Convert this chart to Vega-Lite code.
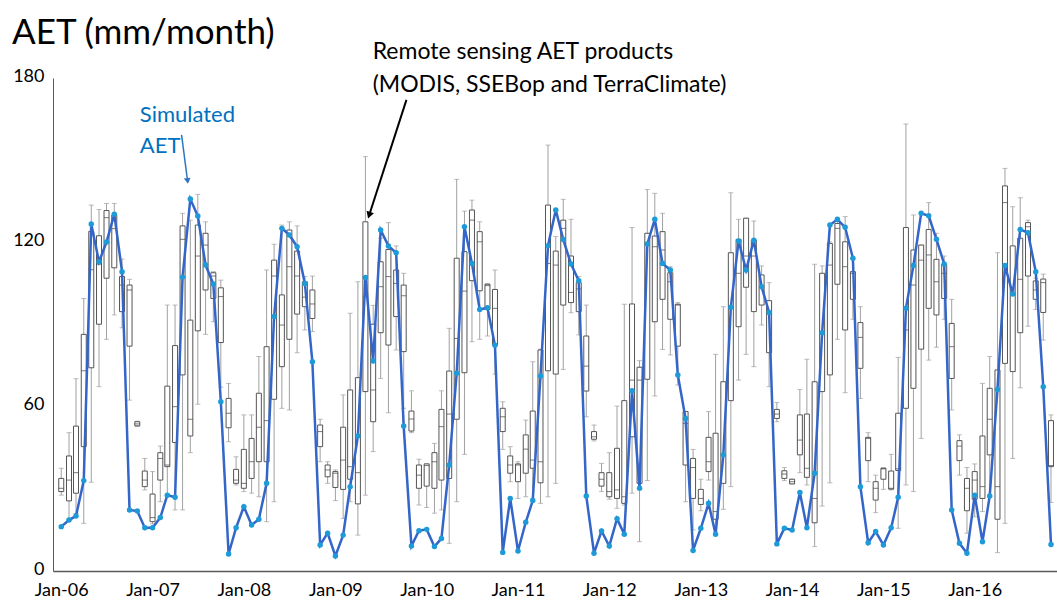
{
"$schema": "https://vega.github.io/schema/vega-lite/v6.json",
"width": 1004, "height": 493,
"autosize": "none",
"padding": {"left": 53, "top": 78, "right": 0, "bottom": 29},
"background": "white",
"title": {"text": "AET (mm/month)", "anchor": "start", "frame": "group", "dx": -41, "dy": 35, "offset": 25, "fontSize": 35, "font": "Lato", "fontWeight": "normal", "color": "#000000"},
"config": {
  "view": {"stroke": null},
  "axis": {"grid": false, "ticks": false, "domainColor": "#595959", "labelFont": "Lato", "labelFontSize": 18, "labelColor": "#000000", "labelFontWeight": "normal"},
  "text": {"font": "Lato"}
},
"data": {"values": [
{"date":"2006-01","sim":16.2,"lo":27.7,"q1":29.0,"med":30.2,"q3":33.8,"hi":37.5},
{"date":"2006-02","sim":18.6,"lo":18.6,"q1":25.6,"med":33.2,"q3":42.0,"hi":50.5},
{"date":"2006-03","sim":20.1,"lo":21.0,"q1":28.4,"med":35.9,"q3":52.9,"hi":70.2},
{"date":"2006-04","sim":33.0,"lo":17.4,"q1":45.4,"med":73.1,"q3":86.4,"hi":99.5},
{"date":"2006-05","sim":126.7,"lo":32.4,"q1":74.2,"med":110,"q3":124,"hi":133.6},
{"date":"2006-06","sim":112.9,"lo":67.3,"q1":90.1,"med":112,"q3":122.4,"hi":132},
{"date":"2006-07","sim":120.1,"lo":84.6,"q1":106.9,"med":129,"q3":131.6,"hi":134.2},
{"date":"2006-08","sim":130.3,"lo":93.5,"q1":110.7,"med":125,"q3":130,"hi":134.2},
{"date":"2006-09","sim":109.3,"lo":88.8,"q1":94.7,"med":104.4,"q3":107.5,"hi":113.9},
{"date":"2006-10","sim":22.3,"lo":62.4,"q1":82.1,"med":102.6,"q3":104.4,"hi":106.5},
{"date":"2006-11","sim":21.9,"lo":52.8,"q1":53.0,"med":53.7,"q3":54.5,"hi":54.7},
{"date":"2006-12","sim":15.8,"lo":29.6,"q1":30.8,"med":33.2,"q3":36.5,"hi":41.1},
{"date":"2007-01","sim":15.8,"lo":17.2,"q1":18.0,"med":19.5,"q3":28.1,"hi":36.3},
{"date":"2007-02","sim":19.5,"lo":25.3,"q1":33.2,"med":41.1,"q3":43.2,"hi":45.6},
{"date":"2007-03","sim":27.7,"lo":27.7,"q1":38.1,"med":38.7,"q3":67.5,"hi":97.1},
{"date":"2007-04","sim":26.9,"lo":22.3,"q1":46.9,"med":60,"q3":82.3,"hi":97.1},
{"date":"2007-05","sim":107.3,"lo":22.3,"q1":71.6,"med":121.1,"q3":126,"hi":130.6},
{"date":"2007-06","sim":135.8,"lo":43.2,"q1":49.3,"med":55.4,"q3":91.6,"hi":128.1},
{"date":"2007-07","sim":129.6,"lo":60.9,"q1":87.7,"med":115,"q3":126.3,"hi":137.5},
{"date":"2007-08","sim":111.7,"lo":86.4,"q1":102.6,"med":119,"q3":123.3,"hi":127.5},
{"date":"2007-09","sim":104.8,"lo":91.0,"q1":99.5,"med":107.7,"q3":108.9,"hi":109.3},
{"date":"2007-10","sim":61.8,"lo":67.1,"q1":83.4,"med":100.2,"q3":103.4,"hi":106.2},
{"date":"2007-11","sim":6.2,"lo":47.2,"q1":52.3,"med":57.6,"q3":63.0,"hi":68.5},
{"date":"2007-12","sim":15.8,"lo":31.4,"q1":32.0,"med":33.2,"q3":37.1,"hi":41.7},
{"date":"2008-01","sim":23.5,"lo":29.0,"q1":30.2,"med":32.0,"q3":44.4,"hi":57.0},
{"date":"2008-02","sim":16.8,"lo":28.4,"q1":33.8,"med":39.9,"q3":48.4,"hi":57.0},
{"date":"2008-03","sim":18.9,"lo":27.1,"q1":39.9,"med":52.5,"q3":64.9,"hi":78.3},
{"date":"2008-04","sim":32.0,"lo":18.0,"q1":39.9,"med":54.9,"q3":81.9,"hi":109.9},
{"date":"2008-05","sim":92.9,"lo":25.3,"q1":62.7,"med":107.7,"q3":113.5,"hi":119.3},
{"date":"2008-06","sim":125.1,"lo":59.4,"q1":74.6,"med":89.8,"q3":100.8,"hi":126.3},
{"date":"2008-07","sim":122.7,"lo":58.8,"q1":84.6,"med":111.1,"q3":124.5,"hi":127.5},
{"date":"2008-08","sim":118.4,"lo":79.7,"q1":93.8,"med":107.7,"q3":116.8,"hi":126.0},
{"date":"2008-09","sim":105.0,"lo":88.0,"q1":96.5,"med":100.0,"q3":105.6,"hi":107.5},
{"date":"2008-10","sim":76.4,"lo":87.4,"q1":92.2,"med":97.5,"q3":102.6,"hi":107.7},
{"date":"2008-11","sim":9.5,"lo":39.9,"q1":45.4,"med":50.9,"q3":53.3,"hi":55.4},
{"date":"2008-12","sim":13.8,"lo":32.0,"q1":34.4,"med":36.9,"q3":38.7,"hi":39.9},
{"date":"2009-01","sim":5.5,"lo":25.7,"q1":30.5,"med":35.7,"q3":36.3,"hi":36.9},
{"date":"2009-02","sim":13.1,"lo":19.2,"q1":29.8,"med":40.5,"q3":52.5,"hi":64.3},
{"date":"2009-03","sim":30.8,"lo":25.3,"q1":33.5,"med":38.1,"q3":66.1,"hi":94.1},
{"date":"2009-04","sim":49.3,"lo":13.1,"q1":24.5,"med":35.9,"q3":70.6,"hi":105.6},
{"date":"2009-05","sim":107.2,"lo":27.7,"q1":65.5,"med":100,"q3":127.5,"hi":151.3},
{"date":"2009-06","sim":76.7,"lo":43.6,"q1":54.5,"med":66.1,"q3":90.1,"hi":97},
{"date":"2009-07","sim":124.5,"lo":70.3,"q1":87.0,"med":103.8,"q3":112.9,"hi":121.5},
{"date":"2009-08","sim":118.7,"lo":57.8,"q1":82.5,"med":107.5,"q3":117.4,"hi":127.2},
{"date":"2009-09","sim":116.2,"lo":80.7,"q1":92.9,"med":105.0,"q3":109.9,"hi":118.7},
{"date":"2009-10","sim":52.9,"lo":59.4,"q1":80.1,"med":100.5,"q3":104.4,"hi":108.7},
{"date":"2009-11","sim":9.1,"lo":50.5,"q1":51.1,"med":55.5,"q3":58.4,"hi":65.8},
{"date":"2009-12","sim":14.7,"lo":24.1,"q1":30.2,"med":35.0,"q3":38.7,"hi":40.8},
{"date":"2010-01","sim":15.2,"lo":23.2,"q1":31.0,"med":38.5,"q3":39.1,"hi":39.1},
{"date":"2010-02","sim":8.9,"lo":21.1,"q1":30.2,"med":39.9,"q3":43.2,"hi":46.6},
{"date":"2010-03","sim":11.9,"lo":22.3,"q1":33.2,"med":52.7,"q3":59.0,"hi":65.8},
{"date":"2010-04","sim":38.7,"lo":10.1,"q1":33.8,"med":57.3,"q3":73.0,"hi":88.6},
{"date":"2010-05","sim":72.2,"lo":25.3,"q1":55.4,"med":84.9,"q3":114.2,"hi":143.0},
{"date":"2010-06","sim":125.7,"lo":42.6,"q1":72.4,"med":102.2,"q3":116.6,"hi":131.4},
{"date":"2010-07","sim":112.3,"lo":83.7,"q1":106.0,"med":128.1,"q3":131.8,"hi":135.4},
{"date":"2010-08","sim":95.5,"lo":84.6,"q1":102.3,"med":120.2,"q3":123.9,"hi":127.5},
{"date":"2010-09","sim":96.1,"lo":85.8,"q1":95.5,"med":104.2,"q3":104.7,"hi":104.9},
{"date":"2010-10","sim":82.4,"lo":71.9,"q1":82.5,"med":95.9,"q3":102.8,"hi":109.9},
{"date":"2010-11","sim":6.8,"lo":44.4,"q1":50.9,"med":56.3,"q3":59.4,"hi":61.8},
{"date":"2010-12","sim":26.5,"lo":32.6,"q1":35.7,"med":38.7,"q3":42.0,"hi":45.4},
{"date":"2011-01","sim":7.3,"lo":26.5,"q1":32.6,"med":38.7,"q3":39.1,"hi":39.9},
{"date":"2011-02","sim":17.8,"lo":27.1,"q1":35.7,"med":44.5,"q3":49.7,"hi":55.1},
{"date":"2011-03","sim":25.7,"lo":26.5,"q1":37.5,"med":40.5,"q3":58.4,"hi":76.4},
{"date":"2011-04","sim":71.2,"lo":24.7,"q1":32.2,"med":39.9,"q3":80.7,"hi":81.0},
{"date":"2011-05","sim":118.8,"lo":27.1,"q1":73.1,"med":112.3,"q3":133.6,"hi":155.5},
{"date":"2011-06","sim":131.8,"lo":32.0,"q1":71.9,"med":111.7,"q3":116.8,"hi":122.1},
{"date":"2011-07","sim":121.0,"lo":73.6,"q1":97.1,"med":125.1,"q3":128.1,"hi":135.7},
{"date":"2011-08","sim":112.1,"lo":94.3,"q1":98.0,"med":101.7,"q3":115.0,"hi":128.4},
{"date":"2011-09","sim":106.0,"lo":86.2,"q1":94.7,"med":103.0,"q3":105.3,"hi":107.5},
{"date":"2011-10","sim":27.4,"lo":56.3,"q1":65.7,"med":74.8,"q3":85.8,"hi":97.1},
{"date":"2011-11","sim":6.5,"lo":47.5,"q1":48.1,"med":49.0,"q3":50.9,"hi":53.3},
{"date":"2011-12","sim":14.6,"lo":29.0,"q1":31.0,"med":33.5,"q3":35.9,"hi":39.3},
{"date":"2012-01","sim":9.1,"lo":26.2,"q1":27.1,"med":29.0,"q3":35.9,"hi":43.2},
{"date":"2012-02","sim":19.1,"lo":22.9,"q1":26.5,"med":29.6,"q3":44.8,"hi":60.2},
{"date":"2012-03","sim":13.4,"lo":24.1,"q1":24.7,"med":27.1,"q3":62.2,"hi":97.4},
{"date":"2012-04","sim":65.8,"lo":28.4,"q1":49.0,"med":69.7,"q3":97.5,"hi":125.4},
{"date":"2012-05","sim":30.2,"lo":10.7,"q1":32.0,"med":69.7,"q3":74.4,"hi":76.8},
{"date":"2012-06","sim":119.4,"lo":33.0,"q1":70.0,"med":119.6,"q3":123.3,"hi":139.3},
{"date":"2012-07","sim":128.4,"lo":63.9,"q1":91.0,"med":118.4,"q3":122.3,"hi":137.9},
{"date":"2012-08","sim":112.3,"lo":80.9,"q1":99.2,"med":117.2,"q3":123.9,"hi":130.6},
{"date":"2012-09","sim":109.9,"lo":78.9,"q1":91.9,"med":105.6,"q3":108.9,"hi":111.1},
{"date":"2012-10","sim":71.6,"lo":67.9,"q1":82.1,"med":97.1,"q3":97.4,"hi":98.0},
{"date":"2012-11","sim":55.7,"lo":25.3,"q1":38.7,"med":53.9,"q3":58.2,"hi":58.2},
{"date":"2012-12","sim":7.5,"lo":15.0,"q1":26.5,"med":37.8,"q3":41.1,"hi":44.4},
{"date":"2013-01","sim":15.6,"lo":22.0,"q1":24.3,"med":26.5,"q3":29.8,"hi":33.5},
{"date":"2013-02","sim":24.7,"lo":33.2,"q1":36.3,"med":39.9,"q3":48.8,"hi":58.2},
{"date":"2013-03","sim":13.4,"lo":17.0,"q1":18.9,"med":21.7,"q3":50.3,"hi":79.1},
{"date":"2013-04","sim":42.4,"lo":22.5,"q1":32.0,"med":42.4,"q3":69.1,"hi":96.5},
{"date":"2013-05","sim":96.3,"lo":30.8,"q1":62.2,"med":96.5,"q3":116.2,"hi":138.1},
{"date":"2013-06","sim":120.5,"lo":69.7,"q1":89.2,"med":108.7,"q3":121.1,"hi":128.4},
{"date":"2013-07","sim":109.9,"lo":79.1,"q1":103.6,"med":115.0,"q3":128.8,"hi":128.8},
{"date":"2013-08","sim":120.8,"lo":74.6,"q1":94.7,"med":115.0,"q3":120.8,"hi":127.8},
{"date":"2013-09","sim":103.8,"lo":89.8,"q1":97.1,"med":103.8,"q3":108.1,"hi":111.4},
{"date":"2013-10","sim":94.4,"lo":67.3,"q1":79.7,"med":94.4,"q3":98.7,"hi":105.3},
{"date":"2013-11","sim":9.9,"lo":54.5,"q1":55.7,"med":57.3,"q3":59.0,"hi":61.5},
{"date":"2013-12","sim":15.6,"lo":33.0,"q1":33.8,"med":35.4,"q3":36.6,"hi":37.8},
{"date":"2014-01","sim":15.0,"lo":31.8,"q1":31.8,"med":32.6,"q3":33.5,"hi":33.5},
{"date":"2014-02","sim":28.7,"lo":35.9,"q1":42.4,"med":47.8,"q3":57.0,"hi":66.3},
{"date":"2014-03","sim":15.8,"lo":31.4,"q1":34.2,"med":37.5,"q3":57.3,"hi":77.3},
{"date":"2014-04","sim":35.7,"lo":8.9,"q1":17.6,"med":26.5,"q3":69.1,"hi":112.0},
{"date":"2014-05","sim":87.0,"lo":23.7,"q1":65.5,"med":87.4,"q3":108.7,"hi":111.4},
{"date":"2014-06","sim":126.3,"lo":32.2,"q1":71.6,"med":111.7,"q3":119.6,"hi":120.2},
{"date":"2014-07","sim":128.4,"lo":84.6,"q1":104.7,"med":125.1,"q3":126.9,"hi":127.9},
{"date":"2014-08","sim":125.5,"lo":65.1,"q1":88.0,"med":111.1,"q3":120.2,"hi":129.4},
{"date":"2014-09","sim":114.2,"lo":91.9,"q1":99.2,"med":108.7,"q3":109.3,"hi":113.8},
{"date":"2014-10","sim":30.8,"lo":63.0,"q1":74.0,"med":85.3,"q3":90.7,"hi":96.5},
{"date":"2014-11","sim":10.3,"lo":32.6,"q1":40.3,"med":48.4,"q3":48.8,"hi":50.5},
{"date":"2014-12","sim":14.4,"lo":21.3,"q1":25.9,"med":30.2,"q3":32.6,"hi":35.0},
{"date":"2015-01","sim":9.5,"lo":29.8,"q1":33.5,"med":37.3,"q3":37.5,"hi":37.7},
{"date":"2015-02","sim":15.8,"lo":29.6,"q1":29.9,"med":30.2,"q3":36.5,"hi":42.6},
{"date":"2015-03","sim":26.9,"lo":15.6,"q1":36.7,"med":37.3,"q3":57.6,"hi":78.0},
{"date":"2015-04","sim":95.9,"lo":31.4,"q1":59.4,"med":88.0,"q3":125.4,"hi":163.2},
{"date":"2015-05","sim":111.5,"lo":29.0,"q1":66.7,"med":104.4,"q3":117.2,"hi":130.0},
{"date":"2015-06","sim":130.6,"lo":48.4,"q1":81.0,"med":113.5,"q3":119.0,"hi":119.0},
{"date":"2015-07","sim":129.7,"lo":77.0,"q1":95.9,"med":115.4,"q3":124.7,"hi":134.5},
{"date":"2015-08","sim":121.1,"lo":81.7,"q1":93.5,"med":105.6,"q3":113.8,"hi":123.3},
{"date":"2015-09","sim":112.1,"lo":91.9,"q1":99.5,"med":108.7,"q3":111.9,"hi":115.0},
{"date":"2015-10","sim":22.3,"lo":58.8,"q1":70.3,"med":81.9,"q3":90.4,"hi":99.2},
{"date":"2015-11","sim":10.1,"lo":35.0,"q1":40.3,"med":45.6,"q3":47.6,"hi":49.7},
{"date":"2015-12","sim":6.5,"lo":13.8,"q1":22.0,"med":30.2,"q3":33.8,"hi":37.8},
{"date":"2016-01","sim":27.7,"lo":19.8,"q1":26.2,"med":33.2,"q3":36.3,"hi":39.1},
{"date":"2016-02","sim":10.7,"lo":21.7,"q1":26.5,"med":30.8,"q3":49.3,"hi":68.5},
{"date":"2016-03","sim":27.4,"lo":27.1,"q1":42.4,"med":55.4,"q3":66.7,"hi":78.3},
{"date":"2016-04","sim":66.3,"lo":6.7,"q1":18.9,"med":30.8,"q3":73.4,"hi":116.2},
{"date":"2016-05","sim":111.5,"lo":17.4,"q1":75.8,"med":134.5,"q3":140.6,"hi":147.0},
{"date":"2016-06","sim":101.1,"lo":41.1,"q1":72.8,"med":101.1,"q3":118.7,"hi":133.0},
{"date":"2016-07","sim":124.7,"lo":66.9,"q1":87.0,"med":106.5,"q3":121.5,"hi":136.3},
{"date":"2016-08","sim":123.5,"lo":89.4,"q1":107.7,"med":125.7,"q3":127.2,"hi":128.1},
{"date":"2016-09","sim":109.3,"lo":95.5,"q1":99.2,"med":102.6,"q3":105.9,"hi":106.9},
{"date":"2016-10","sim":67.3,"lo":84.3,"q1":94.4,"med":105.3,"q3":106.6,"hi":108.4},
{"date":"2016-11","sim":9.7,"lo":25.0,"q1":38.1,"med":38.5,"q3":54.9,"hi":57.0}
]},
"layer": [
{"mark": {"type": "rule", "color": "#a0a0a0", "strokeWidth": 1},
 "encoding": {
  "x": {"field": "date", "type": "temporal", "title": null,
        "scale": {"type": "utc", "domain": [{"year": 2005, "month": 12, "date": 19, "utc": true}, {"year": 2016, "month": 11, "date": 5, "utc": true}]},
        "axis": {"format": "%b-%y", "labelPadding": 10, "domainWidth": 1.5,
                 "values": [{"year": 2006, "month": 1, "date": 1, "utc": true}, {"year": 2007, "month": 1, "date": 1, "utc": true}, {"year": 2008, "month": 1, "date": 1, "utc": true}, {"year": 2009, "month": 1, "date": 1, "utc": true}, {"year": 2010, "month": 1, "date": 1, "utc": true}, {"year": 2011, "month": 1, "date": 1, "utc": true}, {"year": 2012, "month": 1, "date": 1, "utc": true}, {"year": 2013, "month": 1, "date": 1, "utc": true}, {"year": 2014, "month": 1, "date": 1, "utc": true}, {"year": 2015, "month": 1, "date": 1, "utc": true}, {"year": 2016, "month": 1, "date": 1, "utc": true}]}},
  "y": {"field": "lo", "type": "quantitative", "title": null,
        "scale": {"domain": [0, 180], "nice": false},
        "axis": {"values": [0, 60, 120, 180], "labelPadding": 9, "labelOffset": -2, "domainWidth": 1}},
  "y2": {"field": "hi"}
 }},
{"mark": {"type": "tick", "orient": "horizontal", "size": 5, "thickness": 1, "color": "#a0a0a0"},
 "encoding": {"x": {"field": "date", "type": "temporal", "title": null}, "y": {"field": "hi", "type": "quantitative", "title": null}}},
{"mark": {"type": "tick", "orient": "horizontal", "size": 5, "thickness": 1, "color": "#a0a0a0"},
 "encoding": {"x": {"field": "date", "type": "temporal", "title": null}, "y": {"field": "lo", "type": "quantitative", "title": null}}},
{"mark": {"type": "bar", "size": 5, "fill": "#ffffff", "stroke": "#555555", "strokeWidth": 1},
 "encoding": {"x": {"field": "date", "type": "temporal", "title": null}, "y": {"field": "q1", "type": "quantitative", "title": null}, "y2": {"field": "q3"}}},
{"mark": {"type": "tick", "orient": "horizontal", "size": 5, "thickness": 1, "color": "#404040"},
 "encoding": {"x": {"field": "date", "type": "temporal", "title": null}, "y": {"field": "med", "type": "quantitative", "title": null}}},
{"mark": {"type": "line", "color": "#3366c8", "strokeWidth": 2.5},
 "encoding": {"x": {"field": "date", "type": "temporal", "title": null}, "y": {"field": "sim", "type": "quantitative", "title": null}}},
{"mark": {"type": "point", "filled": true, "size": 30, "color": "#1d9ad8", "opacity": 1},
 "encoding": {"x": {"field": "date", "type": "temporal", "title": null}, "y": {"field": "sim", "type": "quantitative", "title": null}}},
{"data": {"values": [{"date": "2009-05-30", "v": 189.5, "label": "Remote sensing AET products"}, {"date": "2009-05-30", "v": 177.4, "label": "(MODIS, SSEBop and TerraClimate)"}]},
 "mark": {"type": "text", "align": "left", "baseline": "middle", "font": "Lato", "fontSize": 23, "color": "#000000"},
 "encoding": {"x": {"field": "date", "type": "temporal", "title": null}, "y": {"field": "v", "type": "quantitative", "title": null}, "text": {"field": "label"}}},
{"data": {"values": [{"date": "2006-11-11", "v": 166.5, "label": "Simulated"}, {"date": "2006-11-11", "v": 155.2, "label": "AET"}]},
 "mark": {"type": "text", "align": "left", "baseline": "middle", "font": "Lato", "fontSize": 22, "color": "#0070c0"},
 "encoding": {"x": {"field": "date", "type": "temporal", "title": null}, "y": {"field": "v", "type": "quantitative", "title": null}, "text": {"field": "label"}}},
{"data": {"values": [{"date": "2009-10-12", "v": 172.0, "date2": "2009-05-16", "v2": 129.9}]},
 "mark": {"type": "rule", "color": "#000000", "strokeWidth": 2},
 "encoding": {"x": {"field": "date", "type": "temporal", "title": null}, "y": {"field": "v", "type": "quantitative", "title": null}, "x2": {"field": "date2"}, "y2": {"field": "v2"}}},
{"data": {"values": [{"date": "2009-05-16", "v": 129.9}]},
 "mark": {"type": "point", "shape": "triangle-down", "filled": true, "size": 60, "angle": 19, "color": "#000000", "opacity": 1},
 "encoding": {"x": {"field": "date", "type": "temporal", "title": null}, "y": {"field": "v", "type": "quantitative", "title": null}}},
{"data": {"values": [{"date": "2007-04-27", "v": 159.2, "date2": "2007-05-21", "v2": 142.4}]},
 "mark": {"type": "rule", "color": "#2e75c0", "strokeWidth": 1.5},
 "encoding": {"x": {"field": "date", "type": "temporal", "title": null}, "y": {"field": "v", "type": "quantitative", "title": null}, "x2": {"field": "date2"}, "y2": {"field": "v2"}}},
{"data": {"values": [{"date": "2007-05-21", "v": 142.4}]},
 "mark": {"type": "point", "shape": "triangle-down", "filled": true, "size": 45, "angle": 352, "color": "#2e75c0", "opacity": 1},
 "encoding": {"x": {"field": "date", "type": "temporal", "title": null}, "y": {"field": "v", "type": "quantitative", "title": null}}}
]
}
